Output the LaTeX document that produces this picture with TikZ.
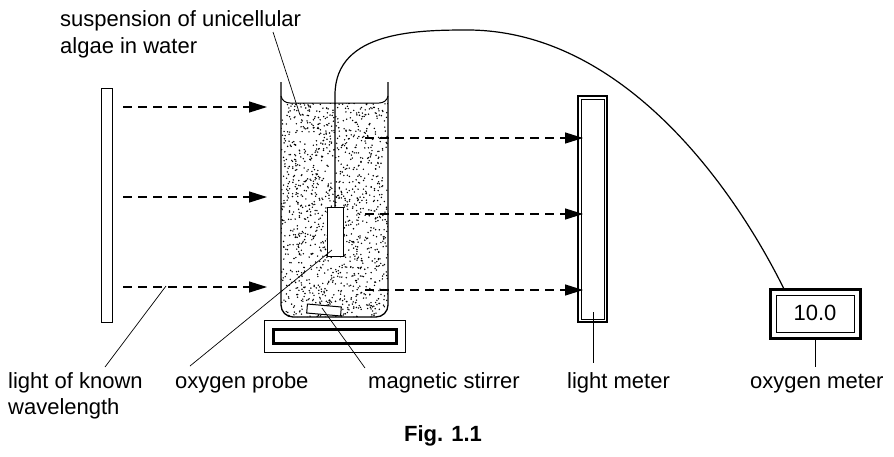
\documentclass[tikz,border=0pt]{standalone}
\usepackage{fontspec}
\setmainfont{Liberation Sans}
\usetikzlibrary{arrows.meta,positioning}
\tikzset{
  ray/.style={dashed,dash pattern=on 9pt off 6pt,line width=1.3pt,-{Triangle[length=18pt,width=11pt]}},
  lead/.style={line width=0.7pt},
  lbl/.style={inner sep=0pt,font=\fontsize{22}{26}\selectfont,anchor=base west}
}
\begin{document}
\begin{tikzpicture}[x=1pt,y=-1pt]
\useasboundingbox (0,0) rectangle (894,456);
% filter panel and light meter
\draw[line width=1pt] (101,88) rectangle (112,322);
\draw[line width=1.2pt] (578,96) rectangle (607,322);
\draw[line width=0.6pt] (581,99) rectangle (604,319);
% beaker with suspension
\begin{scope}
  \clip[rounded corners=12pt] (281,103) -- (281,317) -- (388,317) -- (388,103);
  \pgfmathsetseed{7}
  \foreach \i in {1,...,1300}
    \fill ({281+107*rnd},{100+218*rnd}) circle (0.8pt);
\end{scope}
\draw[line width=1.3pt,rounded corners=12pt] (281,82) -- (281,317) -- (388,317) -- (388,82);
\draw[line width=1pt] (281,96) to[out=-80,in=180] (290,103) -- (379,103) to[out=0,in=-100] (388,96);
% probe, stirrer, base
\node[draw,line width=1pt,fill=white,minimum width=16pt,minimum height=49pt,inner sep=0pt] (probe) at (335,232) {};
\coordinate (wtop) at (470,30);
\coordinate (omtop) at (784,289);
\draw[line width=1.2pt] (probe.north) -- (335,95) .. controls (335,30) and (420,30) .. (wtop)
  .. controls (620,32) and (730,180) .. (omtop);
\node[draw,line width=1pt,fill=white,minimum width=34pt,minimum height=9pt,inner sep=0pt,rotate=-5] (bar) at (324,310) {};
\draw[line width=0.6pt] (264,320) rectangle (405,352);
\draw[line width=3pt] (273,329) rectangle (396,343);
% oxygen meter
\draw[line width=3pt] (770,289) rectangle (860,338);
\draw[line width=0.8pt] (776,295) rectangle (854,332);
\node[lbl,anchor=center] (reading) at (815,313) {10.0};
% light rays
\foreach \y in {107,197,287} \draw[ray] (123,\y) -- (267,\y);
\foreach \y in {138,214,290} \draw[ray] (365,\y) -- (583,\y);
% labels
\node[lbl] (susp) at (60,26) {suspension of unicellular};
\node[lbl] (susp2) at (60,53) {algae in water};
\node[lbl] (filt) at (8,388) {light of known};
\node[lbl] (filt2) at (8,414) {wavelength};
\node[lbl] (prl) at (175,388) {oxygen probe};
\node[lbl] (stl) at (368,388) {magnetic stirrer};
\node[lbl] (lml) at (567,388) {light meter};
\node[lbl] (oml) at (750,388) {oxygen meter};
\node[lbl,anchor=base,font=\bfseries\fontsize{22}{26}\selectfont] (fig) at (443,441) {Fig. 1.1};
\draw[lead] (273,32) -- (300,115);
\draw[lead] (166,286) -- (105,367);
\draw[lead] (332,250) -- (190,366);
\draw[lead] (322,308) -- (365,368);
\draw[lead] (593,312) -- (593,363);
\draw[lead] (815,338) -- (815,367);
\end{tikzpicture}
\end{document}
